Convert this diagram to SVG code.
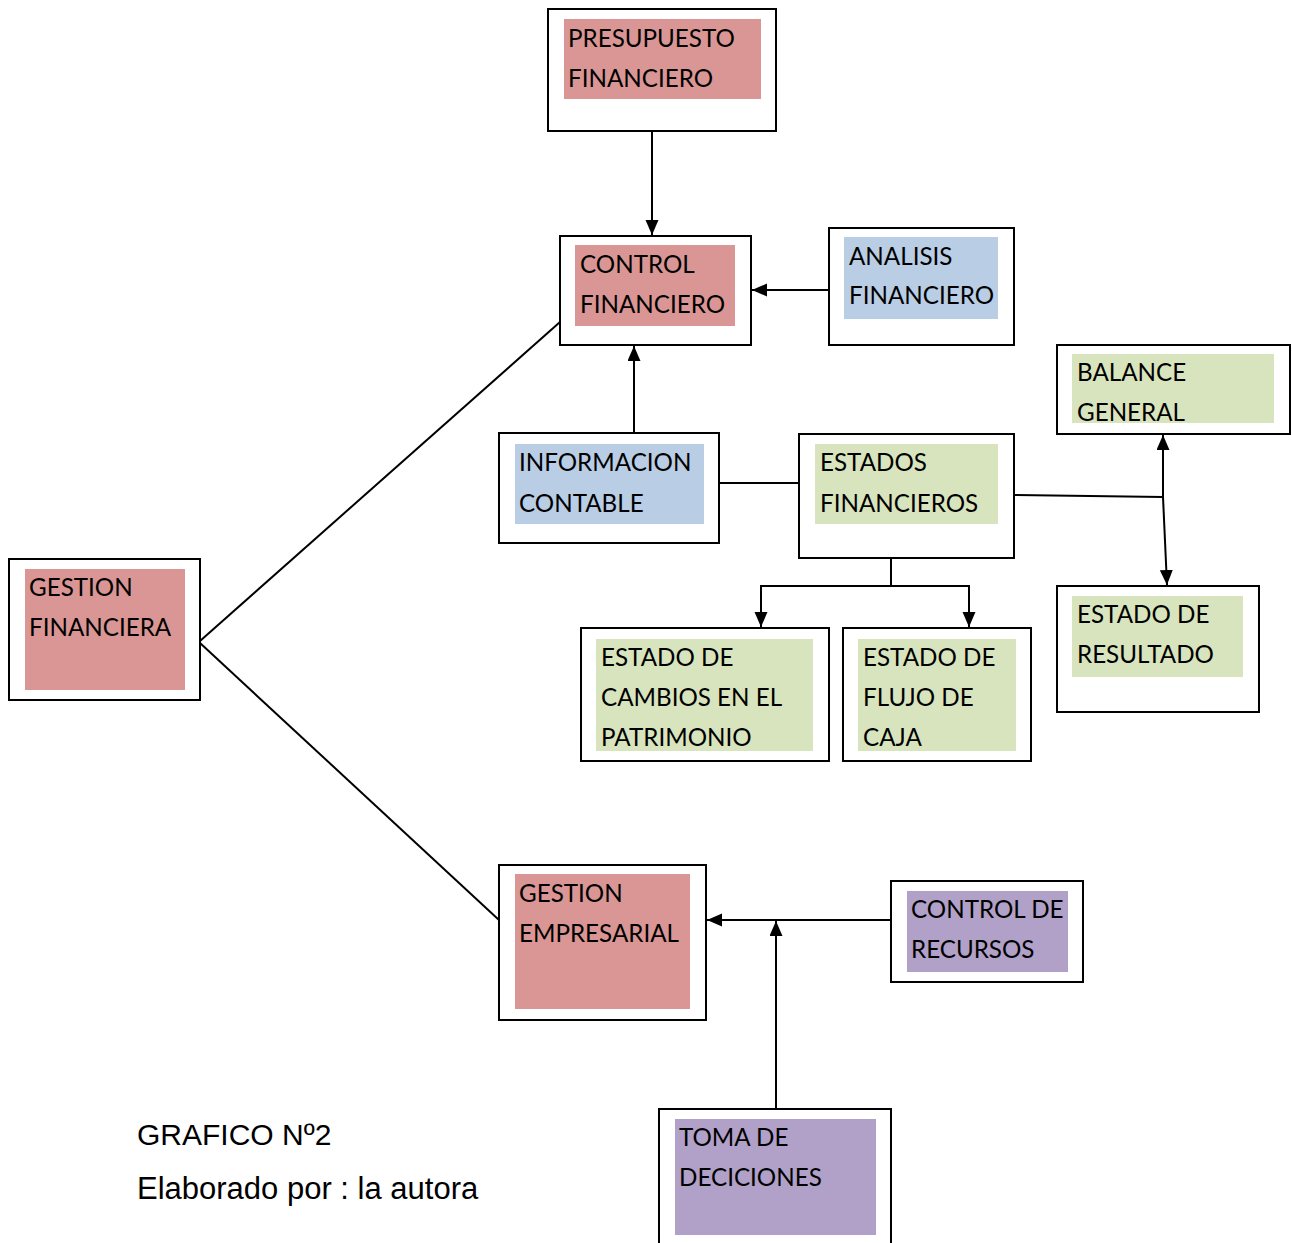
<svg xmlns="http://www.w3.org/2000/svg" width="1292" height="1243" viewBox="0 0 1292 1243">
<style>
.box{fill:#fff;stroke:#000;stroke-width:2}
.pink{fill:#D99694}
.blue{fill:#B9CDE5}
.green{fill:#D7E4BD}
.purple{fill:#B1A0C7}
.t{font-family:Lato,"Open Sans",sans-serif;font-size:24.2px;fill:#000}
.c{fill:none;stroke:#000;stroke-width:2}
.cap{font-family:"Liberation Sans",Arial,sans-serif;font-size:30px;fill:#000}
</style>
<defs>
<marker id="ah" markerUnits="userSpaceOnUse" markerWidth="15" markerHeight="14" refX="15" refY="6.5" orient="auto">
<path d="M0,0 L15,6.5 L0,13 z" fill="#000"/>
</marker>
</defs>
<rect width="1292" height="1243" fill="#fff"/>
<g id="connectors">
<line class="c" x1="652" y1="131" x2="652" y2="235" marker-end="url(#ah)"/>
<line class="c" x1="829" y1="290" x2="752" y2="290" marker-end="url(#ah)"/>
<line class="c" x1="634" y1="433" x2="634" y2="346" marker-end="url(#ah)"/>
<line class="c" x1="719" y1="483" x2="799" y2="483"/>
<polyline class="c" points="1014,495 1163,497"/>
<line class="c" x1="1163" y1="497" x2="1163" y2="435" marker-end="url(#ah)"/>
<line class="c" x1="1163" y1="497" x2="1167" y2="585" marker-end="url(#ah)"/>
<line class="c" x1="891" y1="558" x2="891" y2="586"/>
<polyline class="c" points="761,627 761,586 969,586 969,627" marker-end="url(#ah)"/>
<line class="c" x1="761" y1="586" x2="761" y2="627" marker-end="url(#ah)"/>
<line class="c" x1="200" y1="641" x2="560" y2="322"/>
<line class="c" x1="200" y1="643" x2="499" y2="920"/>
<line class="c" x1="897" y1="920" x2="707" y2="920" marker-end="url(#ah)"/>
<line class="c" x1="776" y1="1109" x2="776" y2="921" marker-end="url(#ah)"/>
</g>
<g id="presupuesto">
<rect class="box" x="548" y="9" width="228" height="122"/>
<rect class="pink" x="564" y="19" width="197" height="80"/>
<text class="t" x="568" y="47">PRESUPUESTO</text>
<text class="t" x="568" y="87">FINANCIERO</text>
</g>
<g id="control">
<rect class="box" x="560" y="236" width="191" height="109"/>
<rect class="pink" x="575" y="245" width="160" height="81"/>
<text class="t" x="580" y="273">CONTROL</text>
<text class="t" x="580" y="313">FINANCIERO</text>
</g>
<g id="analisis">
<rect class="box" x="829" y="228" width="185" height="117"/>
<rect class="blue" x="844" y="237" width="154" height="82"/>
<text class="t" x="849" y="265">ANALISIS</text>
<text class="t" x="849" y="304">FINANCIERO</text>
</g>
<g id="balance">
<rect class="box" x="1057" y="345" width="233" height="89"/>
<rect class="green" x="1072" y="354" width="202" height="69"/>
<text class="t" x="1077" y="381">BALANCE</text>
<text class="t" x="1077" y="421">GENERAL</text>
</g>
<g id="informacion">
<rect class="box" x="499" y="433" width="220" height="110"/>
<rect class="blue" x="515" y="444" width="189" height="80"/>
<text class="t" x="519" y="471">INFORMACION</text>
<text class="t" x="519" y="512">CONTABLE</text>
</g>
<g id="estados">
<rect class="box" x="799" y="434" width="215" height="124"/>
<rect class="green" x="815" y="444" width="183" height="80"/>
<text class="t" x="820" y="471">ESTADOS</text>
<text class="t" x="820" y="512">FINANCIEROS</text>
</g>
<g id="resultado">
<rect class="box" x="1057" y="586" width="202" height="126"/>
<rect class="green" x="1072" y="596" width="171" height="81"/>
<text class="t" x="1077" y="623">ESTADO DE</text>
<text class="t" x="1077" y="663">RESULTADO</text>
</g>
<g id="cambios">
<rect class="box" x="581" y="628" width="248" height="133"/>
<rect class="green" x="596" y="639" width="217" height="112"/>
<text class="t" x="601" y="666">ESTADO DE</text>
<text class="t" x="601" y="706">CAMBIOS EN EL</text>
<text class="t" x="601" y="746">PATRIMONIO</text>
</g>
<g id="flujo">
<rect class="box" x="843" y="628" width="188" height="133"/>
<rect class="green" x="858" y="639" width="158" height="112"/>
<text class="t" x="863" y="666">ESTADO DE</text>
<text class="t" x="863" y="706">FLUJO DE</text>
<text class="t" x="863" y="746">CAJA</text>
</g>
<g id="gestion-financiera">
<rect class="box" x="9" y="559" width="191" height="141"/>
<rect class="pink" x="25" y="569" width="160" height="121"/>
<text class="t" x="29" y="596">GESTION</text>
<text class="t" x="29" y="636">FINANCIERA</text>
</g>
<g id="gestion-empresarial">
<rect class="box" x="499" y="865" width="207" height="155"/>
<rect class="pink" x="515" y="874" width="175" height="135"/>
<text class="t" x="519" y="902">GESTION</text>
<text class="t" x="519" y="942">EMPRESARIAL</text>
</g>
<g id="control-recursos">
<rect class="box" x="891" y="881" width="192" height="101"/>
<rect class="purple" x="907" y="891" width="161" height="81"/>
<text class="t" x="911" y="918">CONTROL DE</text>
<text class="t" x="911" y="958">RECURSOS</text>
</g>
<g id="toma">
<rect class="box" x="659" y="1109" width="232" height="150"/>
<rect class="purple" x="675" y="1119" width="201" height="116"/>
<text class="t" x="679" y="1146">TOMA DE</text>
<text class="t" x="679" y="1186">DECICIONES</text>
</g>
<g id="caption">
<text class="cap" x="137" y="1145">GRAFICO Nº2</text>
<text class="cap" x="137" y="1199" style="font-size:31px">Elaborado por : la autora</text>
</g>
</svg>
